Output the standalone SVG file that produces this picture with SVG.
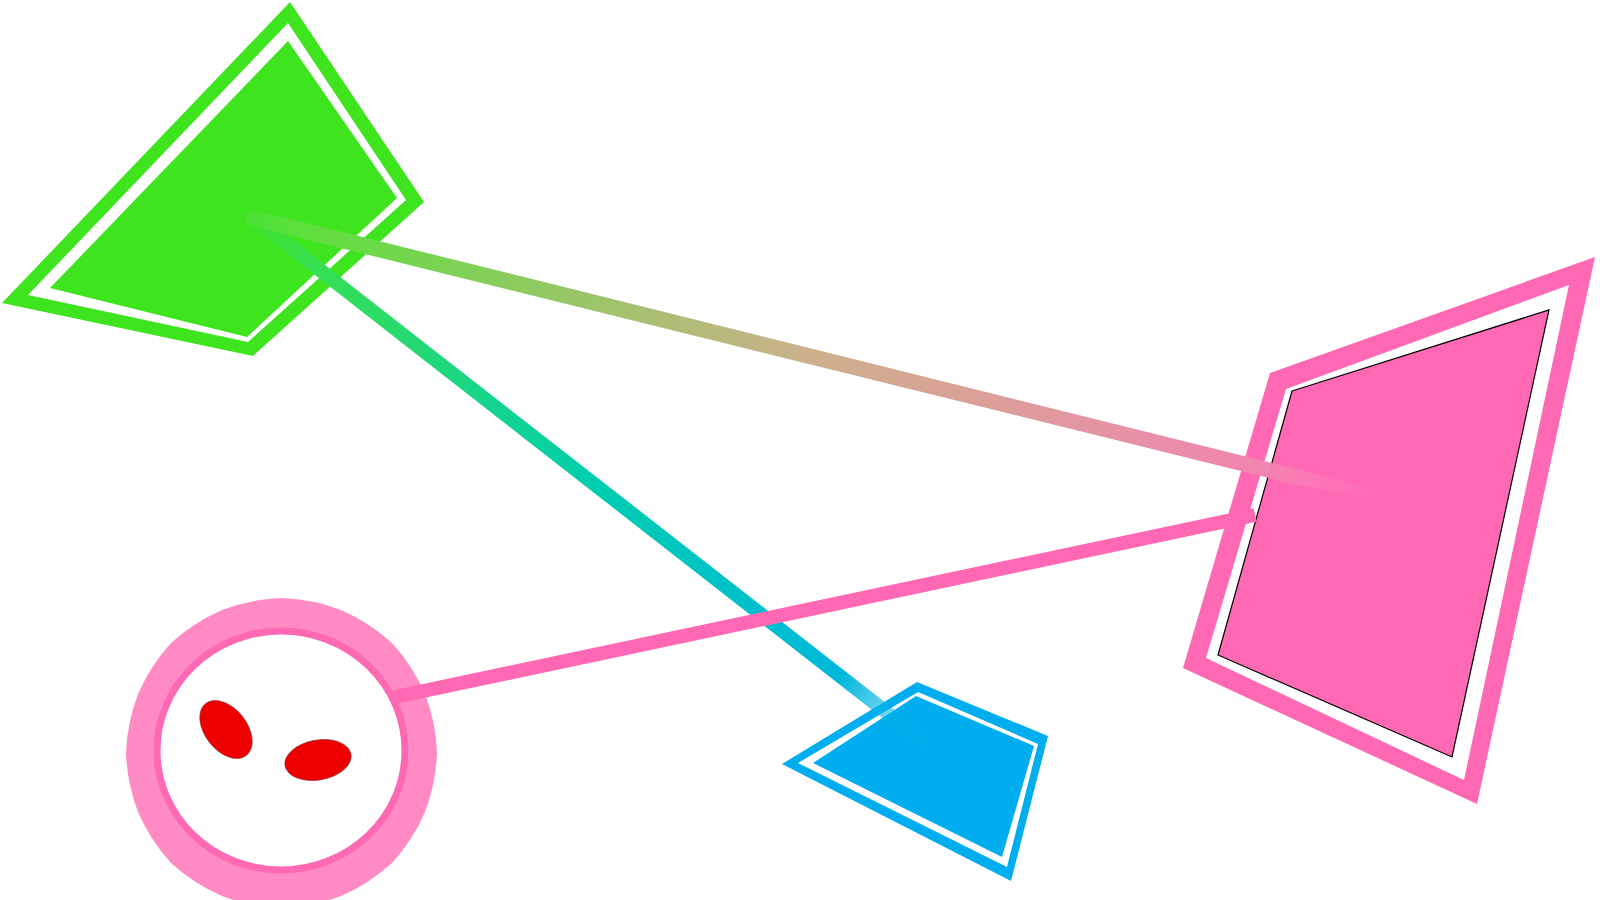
<svg xmlns="http://www.w3.org/2000/svg" width="1600" height="900" viewBox="0 0 1600 900">
<style>
.g{fill:#3ee51f}
.p{fill:#ff69b4}
.b{fill:#00aeef}
.w{fill:#ffffff}
.eye{fill:#ee0000;stroke:#803030;stroke-width:0.6}
</style>
<defs>
<linearGradient id="gradGP" gradientUnits="userSpaceOnUse" x1="253" y1="218" x2="1377" y2="495">
<stop offset="0" stop-color="#5ae03c" stop-opacity="0.5"/>
<stop offset="0.04" stop-color="#5ce03c" stop-opacity="1"/>
<stop offset="0.5" stop-color="#cdb08c"/>
<stop offset="0.9" stop-color="#f284b0"/>
<stop offset="1" stop-color="#ff7cbc" stop-opacity="0.1"/>
</linearGradient>
<linearGradient id="gradGB" gradientUnits="userSpaceOnUse" x1="253" y1="218" x2="945" y2="758">
<stop offset="0" stop-color="#3ee040" stop-opacity="0.4"/>
<stop offset="0.08" stop-color="#38e050" stop-opacity="1"/>
<stop offset="0.5" stop-color="#00cdb0"/>
<stop offset="0.85" stop-color="#00b8dc"/>
<stop offset="1" stop-color="#00aeef" stop-opacity="0"/>
</linearGradient>
</defs>
<g id="node-green">
<polygon class="g" points="290,2 424,202 253,356 2,303"/>
<polygon class="w" points="288,23 406,200 248,342 28,295"/>
<polygon class="g" points="288,41 397,198 247,337 50,288"/>
</g>
<g id="node-pink">
<polygon class="p" points="1270,373 1595,257 1477,804 1183,668"/>
<polygon class="w" points="1286,389 1569,285 1464,780 1206,658"/>
<polygon class="p" stroke="#000" stroke-width="1.2" points="1292,391 1549,310 1452,757 1218,655"/>
</g>
<g id="node-blue">
<polygon class="b" points="917,682 1048,736 1011,881 782,764"/>
<polygon class="w" points="918,692 1038,744 1007,867 798,763"/>
<polygon class="b" points="916,696 1034,746 1002,857 813,763"/>
</g>
<g id="node-circle">
<path fill="#ff8ac4" d="M437,753 A185,185 0 0 1 425,812 A185,185 0 0 1 392,863 A185,185 0 0 1 341,896 A185,185 0 0 1 281.5,908 A185,185 0 0 1 222,896 A185,185 0 0 1 171,863 A185,185 0 0 1 138,812 A185,185 0 0 1 126,753 A185,185 0 0 1 138,694 A185,185 0 0 1 171,643 A185,185 0 0 1 222,610 A185,185 0 0 1 281.5,598 A185,185 0 0 1 341,610 A185,185 0 0 1 392,643 A185,185 0 0 1 425,694 A185,185 0 0 1 437,753 Z"/>
<ellipse cx="281" cy="750.5" rx="124" ry="119.5" fill="#fff" stroke="#ff69b4" stroke-width="7"/>
<ellipse class="eye" cx="226" cy="729.5" rx="33" ry="21" transform="rotate(52 226 729.5)"/>
<ellipse class="eye" cx="318" cy="760" rx="33.5" ry="20" transform="rotate(-10 318 760)"/>
</g>
<g id="connectors" fill="none">
<line x1="256" y1="220" x2="945" y2="758" stroke="url(#gradGB)" stroke-width="14" stroke-linecap="round"/>
<line x1="395" y1="697" x2="1255" y2="515" stroke="#ff69b4" stroke-width="14"/>
<path d="M251.1,225.8 A8,8 0 0 1 254.9,210.2 L1300,470 L1377,491 A4,4 0 0 1 1375,499 L1297,485 Z" fill="url(#gradGP)"/>
</g>
</svg>
